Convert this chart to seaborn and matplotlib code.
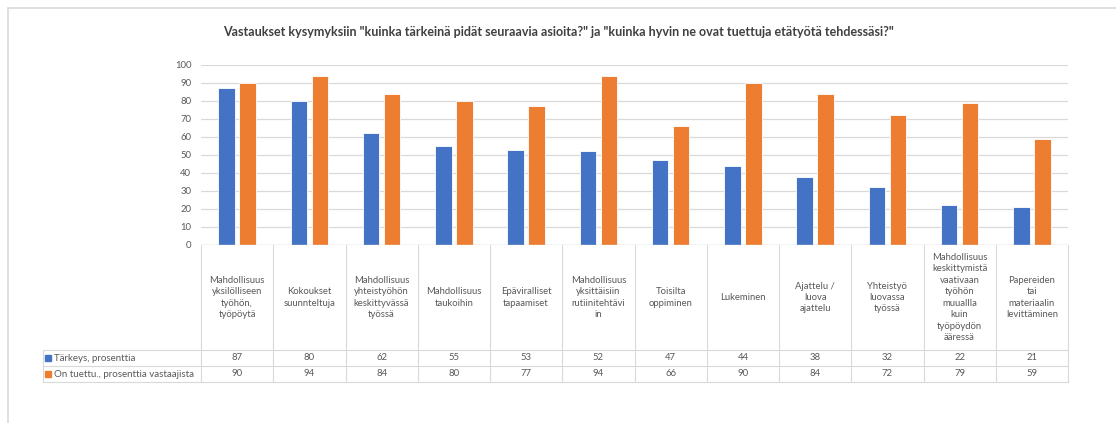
import numpy as np
import pandas as pd
import matplotlib
matplotlib.use('Agg')
import matplotlib.pyplot as plt
import seaborn as sns
from matplotlib.lines import Line2D
from matplotlib.transforms import blended_transform_factory

#------------------------------------------------
categories=['Mahdollisuus\nyksilölliseen\ntyöhön,\ntyöpöytä',
            'Kokoukset\nsuunnteltuja',
            'Mahdollisuus\nyhteistyöhön\nkeskittyvässä\ntyössä',
            'Mahdollisuus\ntaukoihin',
            'Epäviralliset\ntapaamiset',
            'Mahdollisuus\nyksittäisiin\nrutiinitehtävi\nin',
            'Toisilta\noppiminen',
            'Lukeminen',
            'Ajattelu /\nluova\najattelu',
            'Yhteistyö\nluovassa\ntyössä',
            'Mahdollisuus\nkeskittymistä\nvaativaan\ntyöhön\nmuuallla\nkuin\ntyöpöydön\nääressä',
            'Papereiden\ntai\nmateriaalin\nlevittäminen']
tarkeys=[87, 80, 62, 55, 53, 52, 47, 44, 38, 32, 22, 21]
tuettu=[90, 94, 84, 80, 77, 94, 66, 90, 84, 72, 79, 59]
series=['Tärkeys, prosenttia', 'On tuettu., prosenttia vastaajista']
colors=['#4472C4', '#ED7D31']
title='Vastaukset kysymyksiin "kuinka tärkeinä pidät seuraavia asioita?" ja "kuinka hyvin ne ovat tuettuja etätyötä tehdessäsi?"'
yticks=list(range(0, 101, 10))

##########################################################
W, H=1116, 423
grid_c='#D9D9D9'
txt_c='#595959'

sns.set_style('white')
plt.rcParams['font.family']=['Lato', 'DejaVu Sans']

df=pd.DataFrame({'cat': categories*2,
                 'serie': [series[0]]*12+[series[1]]*12,
                 'val': tarkeys+tuettu})

fig=plt.figure(figsize=(W/100, H/100), dpi=100)
ax=fig.add_axes([201/W, 1-245/H, 867/W, 180/H])

sns.barplot(data=df, x='cat', y='val', hue='serie', palette=colors, ax=ax,
            width=0.58, gap=0.22, saturation=1, edgecolor='white',
            linewidth=0.6, legend=False)

#axes
ax.set_ylim(0, 100)
ax.set_xlim(-0.5, 11.5)
ax.set_yticks(yticks)
ax.set_yticklabels([str(v) for v in yticks], fontsize=6.8, color=txt_c)
ax.tick_params(axis='y', length=0, pad=7)
ax.set_xticks([])
ax.set_xlabel('')
ax.set_ylabel('')
for s in ax.spines.values(): s.set_visible(False)
ax.set_axisbelow(True)
ax.yaxis.grid(True, color=grid_c, linewidth=0.9)
ax.axhline(0, color=grid_c, linewidth=1.0, zorder=1)

#title
fig.text(0.5, 1-32/H, title, ha='center', va='center', fontsize=9.0,
         fontweight='bold', color='#404040')

#data table
tr=blended_transform_factory(ax.transData, ax.transAxes)
def ya(px): return (245-px)/180

lw=0.8
for i in range(13):
    ax.add_line(Line2D([i-0.5, i-0.5], [ya(245), ya(382)], transform=tr,
                       color=grid_c, lw=lw, clip_on=False))
x_left=(43-201)/867
for py in [350, 366, 382]:
    ax.add_line(Line2D([x_left, 1], [ya(py), ya(py)], transform=ax.transAxes,
                       color=grid_c, lw=lw, clip_on=False))
ax.add_line(Line2D([x_left, x_left], [ya(350), ya(382)], transform=ax.transAxes,
                   color=grid_c, lw=lw, clip_on=False))

for i, cat in enumerate(categories):
    ax.text(i, ya(297.5), cat, transform=tr, ha='center', va='center',
            fontsize=6.8, color=txt_c, linespacing=1.35)
    ax.text(i, ya(358), str(tarkeys[i]), transform=tr, ha='center', va='center',
            fontsize=6.8, color=txt_c)
    ax.text(i, ya(374), str(tuettu[i]), transform=tr, ha='center', va='center',
            fontsize=6.8, color=txt_c)

for j, (name, c) in enumerate(zip(series, colors)):
    py=358+16*j
    fig.patches.append(plt.Rectangle((45/W, 1-(py+3)/H), 6/W, 6/H,
                                     transform=fig.transFigure, color=c))
    fig.text(54/W, 1-py/H, name, ha='left', va='center', fontsize=7.0, color=txt_c)

#chart frame
fig.add_artist(Line2D([8/W, 1], [1-8/H, 1-8/H], color=grid_c, lw=1.2))
fig.add_artist(Line2D([8/W, 8/W], [1-8/H, 0], color=grid_c, lw=1.2))

fig.savefig('out.png', dpi=100)
plt.close()
